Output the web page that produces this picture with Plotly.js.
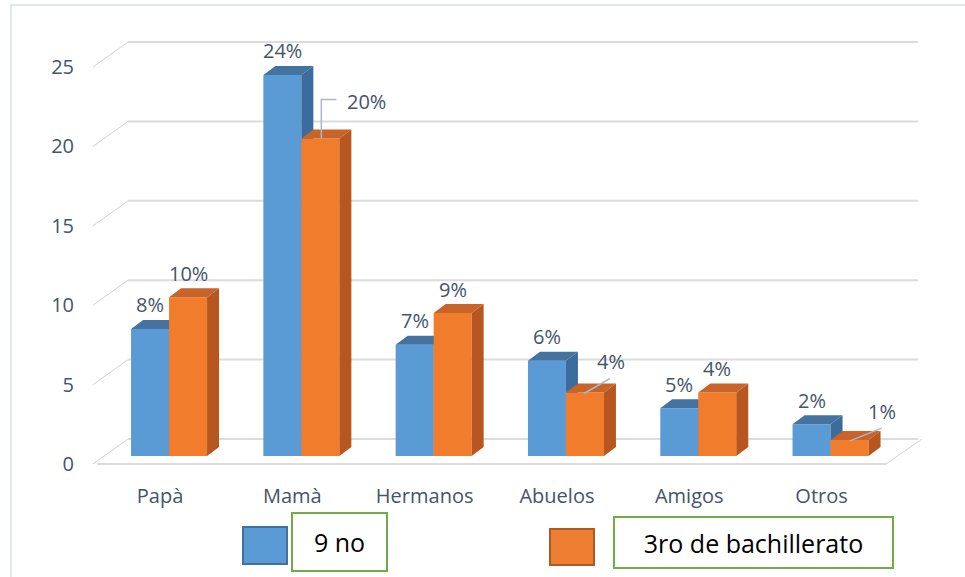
<!DOCTYPE html>
<html>
<head>
<meta charset="utf-8">
<script src="https://cdn.plot.ly/plotly-3.0.1.min.js"></script>
<style>
  html, body { margin: 0; padding: 0; background: #ffffff; }
  #chart { width: 965px; height: 577px; }
</style>
</head>
<body>
<div id="chart"></div>
<script>
// ---------------- DATA ----------------
const categories = ['Papà', 'Mamà', 'Hermanos', 'Abuelos', 'Amigos', 'Otros'];
const seriesNames = ['9 no', '3ro de bachillerato'];
const values9 = [8, 24, 7, 6, 3, 2];
const valuesBach = [10, 20, 9, 4, 4, 1];
const labels9 = ['8%', '24%', '7%', '6%', '5%', '2%'];
const labelsBach = ['10%', '20%', '9%', '4%', '4%', '1%'];
const yTicks = [0, 5, 10, 15, 20, 25];

// ---------------- STYLE / GEOMETRY ----------------
const W = 965, H = 577;
const L = 97, R = 922, T = 30, B = 470;          // plot area in px
const X0PX = 169.05, XPPU = 132.3;               // px of category boundary 0, px per category
const Y0PX = 456, YPPU = 15.88;                  // px of value 0 (front plane), px per unit
const xmin = (L - X0PX) / XPPU, xmax = (R - X0PX) / XPPU;
const ymin = -(B - Y0PX) / YPPU, ymax = (Y0PX - T) / YPPU;
const barW = 38 / XPPU;
const dX = 12 / XPPU, dY = 9 / YPPU;             // 3D depth
const labelOff = (464 - Y0PX) / YPPU;            // tick label plane offset (down)
const wallOff = (Y0PX - 439) / YPPU;             // back wall offset (up)

const C = {
  blueFront: '#5b9bd5', blueSide: '#3b6c9e', blueTop: '#44739f',
  orgFront: '#f17c2c', orgSide: '#b7561e', orgTop: '#c8632a',
  text: '#44546a', grid: '#dcdcdc', diag: '#d2d2d2', leader: '#a9b7c8',
  frame: '#d8dfe8', green: '#70ad47'
};
const FONT = '"Open Sans", "Noto Sans", sans-serif';

const xp = px => (px - L) / (R - L);
const ypx = py => (B - py) / (B - T);
const yv = v => (v - ymin) / (ymax - ymin);

function sidePolys(vals, offs) {
  const xs = [], ys = [];
  vals.forEach((v, i) => {
    const x1 = i + offs + barW;
    xs.push(x1, x1 + dX, x1 + dX, x1, x1, null);
    ys.push(0, dY, v + dY, v, 0, null);
  });
  return {xs, ys};
}
function topPolys(vals, offs) {
  const xs = [], ys = [];
  vals.forEach((v, i) => {
    const x0 = i + offs, x1 = x0 + barW;
    xs.push(x0, x0 + dX, x1 + dX, x1, x0, null);
    ys.push(v, v + dY, v + dY, v, v, null);
  });
  return {xs, ys};
}
const idx = categories.map((c, i) => i);

function faceTrace(p, color, xa, ya) {
  return {type: 'scatter', mode: 'lines', x: p.xs, y: p.ys, fill: 'toself',
    fillcolor: color, line: {width: 0, color: color}, hoverinfo: 'skip',
    showlegend: false, xaxis: xa, yaxis: ya};
}

const traces = [
  {type: 'bar', name: seriesNames[0], x: idx, y: values9, width: barW, offset: -barW,
   marker: {color: C.blueFront, line: {width: 0}}, xaxis: 'x', yaxis: 'y', showlegend: false},
  faceTrace(sidePolys(values9, -barW), C.blueSide, 'x', 'y'),
  faceTrace(topPolys(values9, -barW), C.blueTop, 'x', 'y'),
  {type: 'bar', name: seriesNames[1], x: idx, y: valuesBach, width: barW, offset: 0,
   marker: {color: C.orgFront, line: {width: 0}}, xaxis: 'x2', yaxis: 'y2', showlegend: false},
  faceTrace(sidePolys(valuesBach, 0), C.orgSide, 'x2', 'y2'),
  faceTrace(topPolys(valuesBach, 0), C.orgTop, 'x2', 'y2')
];

// moved labels with leader lines (pixel offsets relative to bar)
const moved = {
  1: {sx: 46.5, sy: 37, leader: [[20, 0], [20, 39], [35, 39]]},
  3: {sx: 26, sy: 31, leader: [[18, -1], [44, 14]]},
  5: {sx: 32, sy: 29, leader: [[19, -1], [51, 12]]}
};
const lx = [], ly = [];
Object.keys(moved).forEach(k => {
  const i = +k, v = valuesBach[i];
  moved[k].leader.forEach(p => { lx.push(i + p[0] / XPPU); ly.push(v + p[1] / YPPU); });
  lx.push(null); ly.push(null);
});
traces.push({type: 'scatter', mode: 'lines', x: lx, y: ly, line: {color: C.leader, width: 1.5},
  hoverinfo: 'skip', showlegend: false, xaxis: 'x2', yaxis: 'y2'});

// ---------------- ANNOTATIONS ----------------
const lblFont = {family: FONT, size: 20, color: C.text};
const annotations = [];
values9.forEach((v, i) => annotations.push({x: i - barW / 2, y: v, xref: 'x', yref: 'y',
  text: labels9[i], showarrow: false, yshift: 24, font: lblFont}));
valuesBach.forEach((v, i) => {
  const m = moved[i];
  annotations.push({x: i + barW / 2, y: v, xref: 'x', yref: 'y', text: labelsBach[i],
    showarrow: false, xshift: m ? m.sx : 0, yshift: m ? m.sy : 24, font: lblFont});
});
// legend text boxes
const legFont = {family: FONT, size: 25, color: '#000000'};
annotations.push({xref: 'paper', yref: 'paper', x: xp((292 + 387) / 2), y: ypx((513 + 571) / 2),
  xanchor: 'center', yanchor: 'middle',
  text: seriesNames[0], showarrow: false, font: legFont, width: 93, height: 56,
  bordercolor: C.green, borderwidth: 2, borderpad: 0, bgcolor: '#ffffff'});
annotations.push({xref: 'paper', yref: 'paper', x: xp((614 + 893) / 2), y: ypx((517 + 568) / 2),
  xanchor: 'center', yanchor: 'middle',
  text: seriesNames[1], showarrow: false, font: legFont, width: 277, height: 49,
  bordercolor: C.green, borderwidth: 2, borderpad: 0, bgcolor: '#ffffff'});

// ---------------- SHAPES ----------------
const shapes = [];
shapes.push({type: 'rect', xref: 'paper', yref: 'paper', x0: xp(11), x1: xp(990), y0: ypx(5), y1: ypx(600),
  line: {color: C.frame, width: 1.5}, layer: 'below'});
yTicks.forEach(t => {
  shapes.push({type: 'line', xref: 'paper', yref: 'paper', x0: xp(128), x1: xp(918),
    y0: yv(t + wallOff), y1: yv(t + wallOff), line: {color: C.grid, width: 2}, layer: 'below'});
  shapes.push({type: 'line', xref: 'paper', yref: 'paper', x0: xp(93), x1: xp(128),
    y0: yv(t - labelOff), y1: yv(t + wallOff), line: {color: C.diag, width: 1}, layer: 'below'});
});
shapes.push({type: 'line', xref: 'paper', yref: 'paper', x0: xp(97), x1: xp(886),
  y0: yv(-labelOff), y1: yv(-labelOff), line: {color: C.grid, width: 2}, layer: 'below'});
shapes.push({type: 'line', xref: 'paper', yref: 'paper', x0: xp(886), x1: xp(922),
  y0: yv(-labelOff), y1: yv(wallOff), line: {color: C.diag, width: 1}, layer: 'below'});
// legend swatches
shapes.push({type: 'rect', xref: 'paper', yref: 'paper', x0: xp(243), x1: xp(287), y0: ypx(564), y1: ypx(527),
  fillcolor: C.blueFront, line: {color: '#41719c', width: 2}});
shapes.push({type: 'rect', xref: 'paper', yref: 'paper', x0: xp(550), x1: xp(594), y0: ypx(565), y1: ypx(529),
  fillcolor: '#ed7d31', line: {color: '#ae5a21', width: 2}});

// ---------------- LAYOUT ----------------
const hiddenX = {range: [xmin, xmax], showgrid: false, zeroline: false, showticklabels: false,
  showline: false, ticks: '', fixedrange: true};
const hiddenY = {range: [ymin, ymax], showgrid: false, zeroline: false, showticklabels: false,
  showline: false, ticks: '', fixedrange: true};

const layout = {
  width: W, height: H,
  margin: {l: L, r: W - R, t: T, b: H - B, pad: 0},
  paper_bgcolor: '#ffffff', plot_bgcolor: 'rgba(0,0,0,0)',
  barmode: 'overlay', showlegend: false,
  font: {family: FONT, color: C.text},
  xaxis: Object.assign({}, hiddenX, {
    showticklabels: true, tickmode: 'array',
    tickvals: idx.map(i => i - 0.068), ticktext: categories,
    tickfont: {family: FONT, size: 20, color: C.text}, ticklabelstandoff: 12
  }),
  yaxis: Object.assign({}, hiddenY, {
    showticklabels: true, tickmode: 'array',
    tickvals: yTicks.map(t => t - labelOff), ticktext: yTicks.map(String),
    tickfont: {family: FONT, size: 20, color: C.text}, ticklabelstandoff: 22
  }),
  xaxis2: Object.assign({}, hiddenX, {overlaying: 'x'}),
  yaxis2: Object.assign({}, hiddenY, {overlaying: 'y'}),
  shapes: shapes,
  annotations: annotations
};

Plotly.newPlot('chart', traces, layout, {displayModeBar: false, staticPlot: true});
</script>
</body>
</html>
